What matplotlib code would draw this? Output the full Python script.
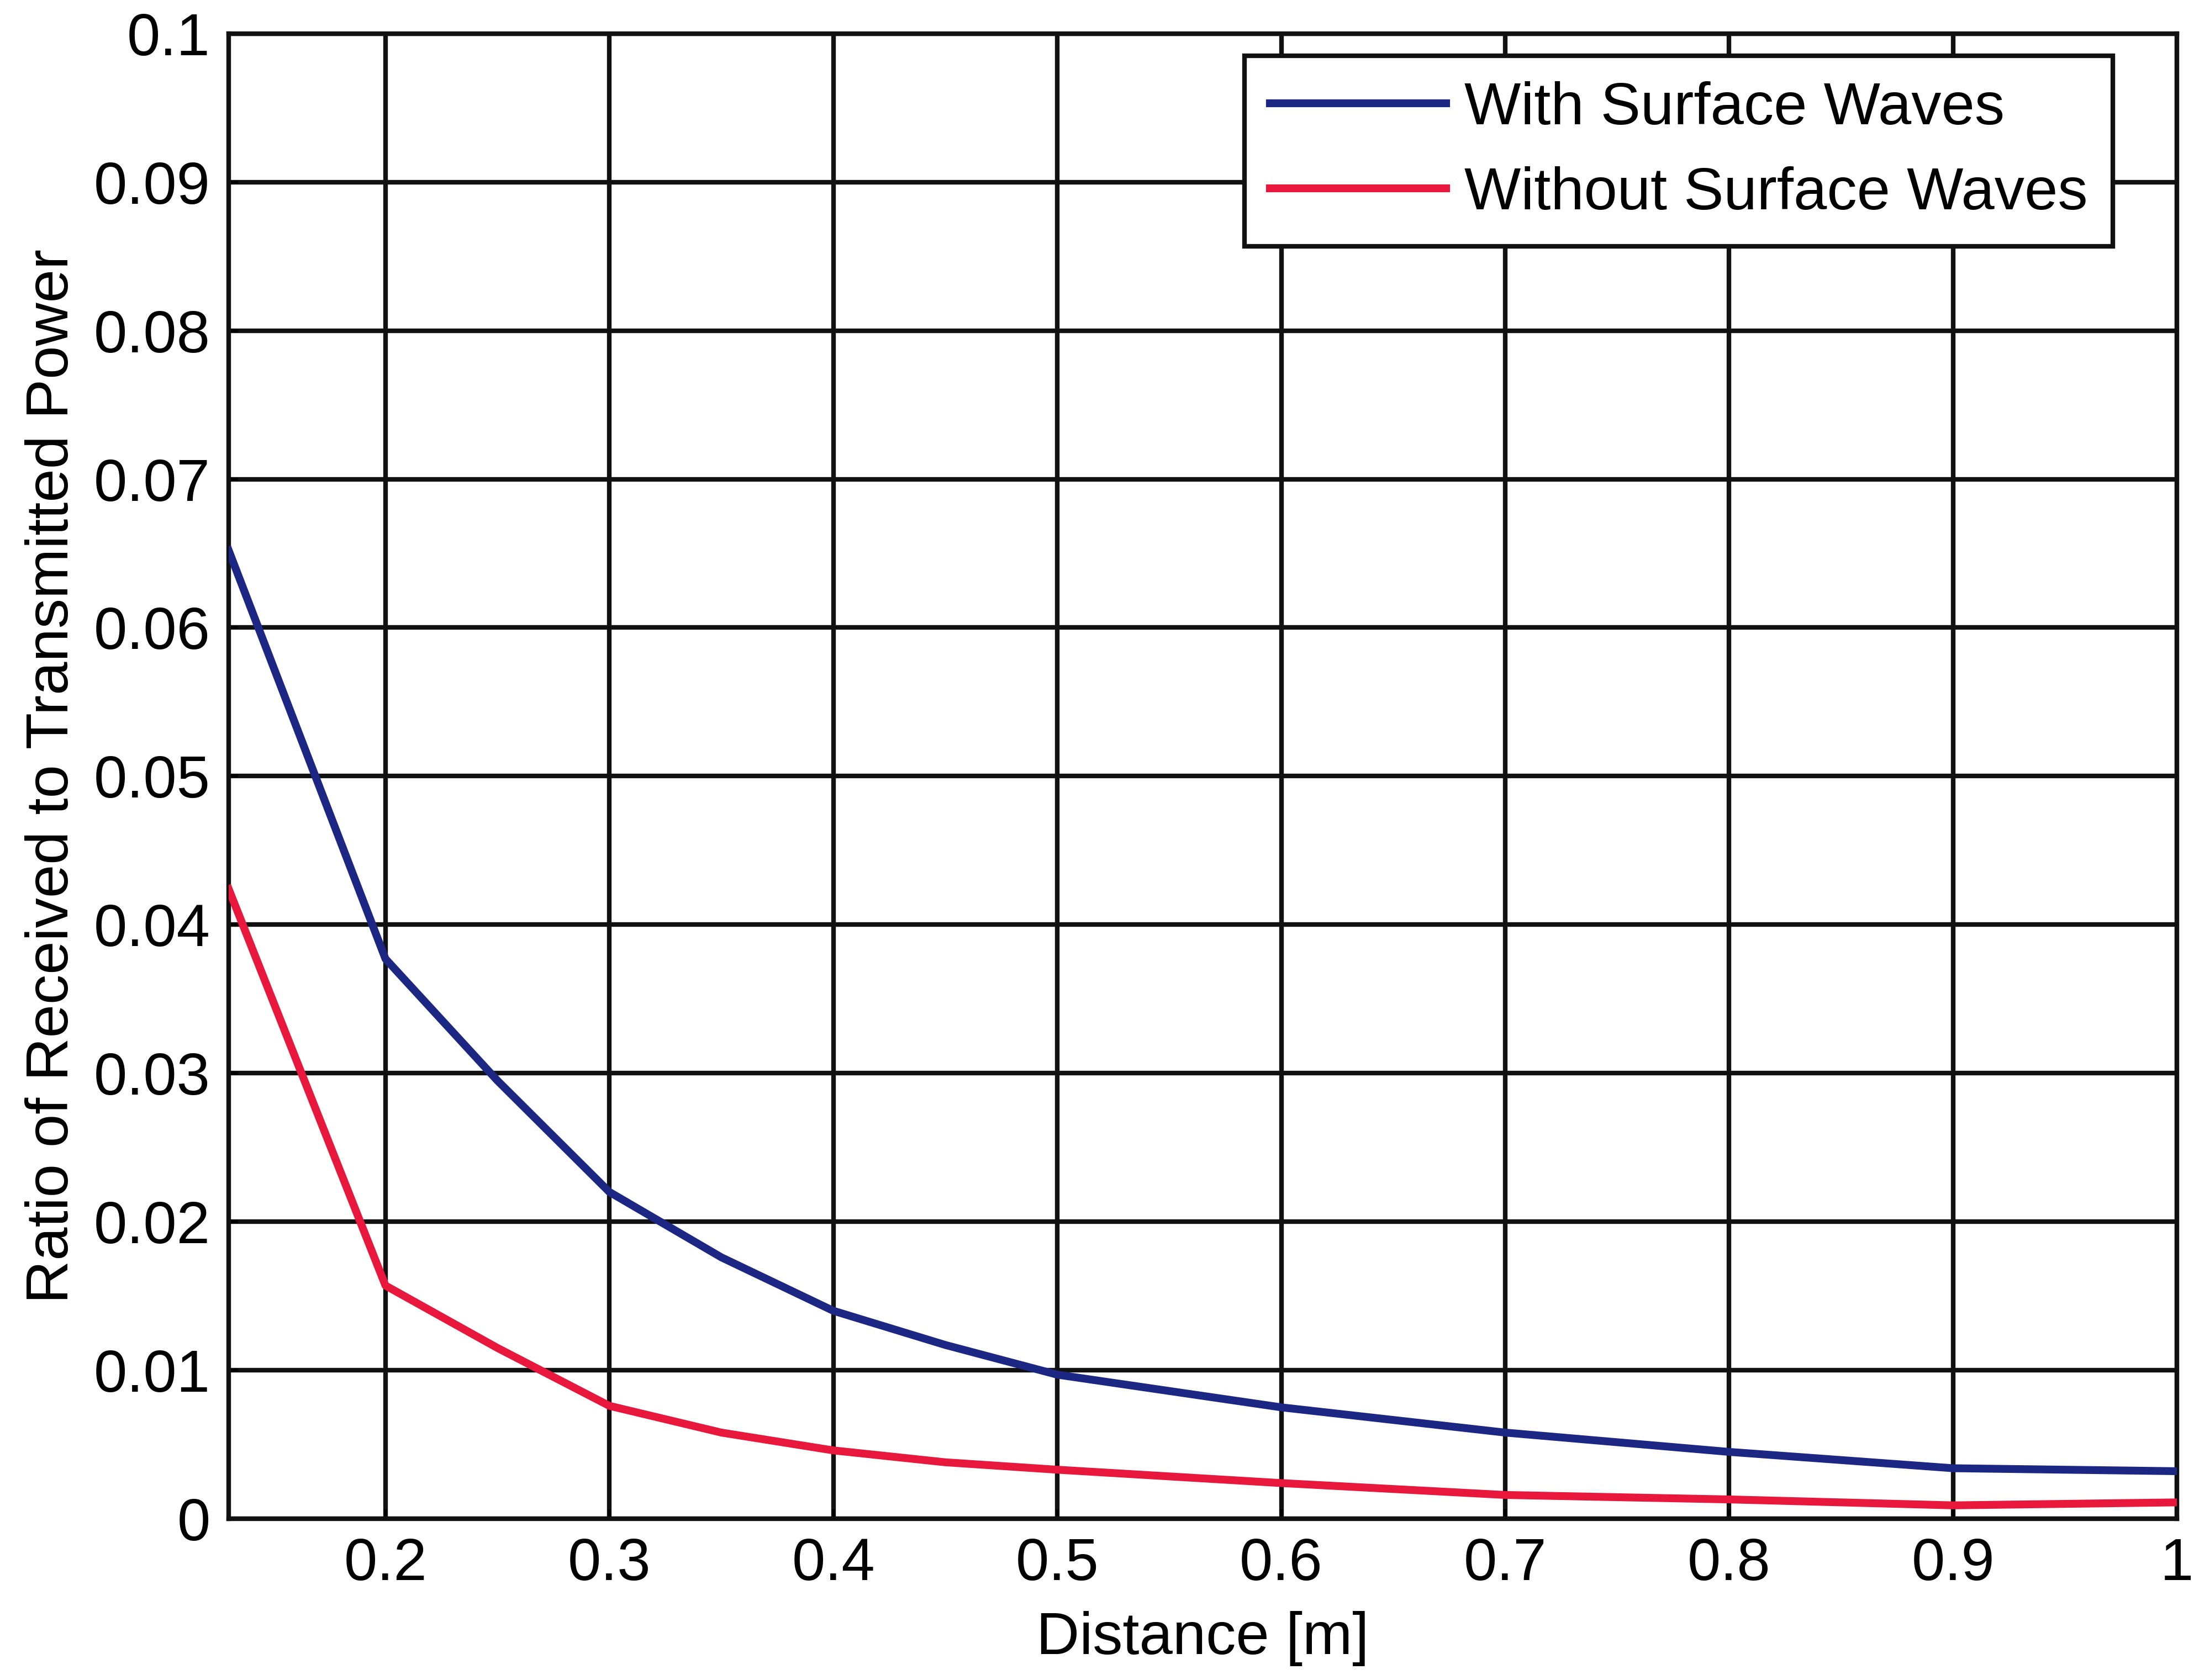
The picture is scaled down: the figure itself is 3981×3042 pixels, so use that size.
#!/usr/bin/env python3
"""Received/transmitted power ratio vs distance, with and without surface waves."""
import numpy as np
import matplotlib
matplotlib.use('Agg')
import matplotlib.pyplot as plt

# values
distance = [0.13, 0.2, 0.25, 0.3, 0.35, 0.4, 0.45, 0.5, 0.6, 0.7, 0.8, 0.9, 1.0]
with_sw = [0.0652, 0.0377, 0.0295, 0.0220, 0.0176, 0.0140, 0.0117, 0.0097, 0.0075, 0.0058, 0.0045, 0.0034, 0.0032]
without_sw = [0.0424, 0.0157, 0.0115, 0.0076, 0.0058, 0.0046, 0.0038, 0.0033, 0.0024, 0.0016, 0.0013, 0.0009, 0.0011]
x_ticks = [0.2, 0.3, 0.4, 0.5, 0.6, 0.7, 0.8, 0.9, 1.0]
x_labels = ['0.2', '0.3', '0.4', '0.5', '0.6', '0.7', '0.8', '0.9', '1']
y_ticks = [0, 0.01, 0.02, 0.03, 0.04, 0.05, 0.06, 0.07, 0.08, 0.09, 0.1]
y_labels = ['0', '0.01', '0.02', '0.03', '0.04', '0.05', '0.06', '0.07', '0.08', '0.09', '0.1']

COL = {'blue': '#1c2683', 'red': '#e8173c', 'grid': '#111111'}
FS = 26


def main():
    plt.rcParams.update({'font.family': ['Liberation Sans', 'DejaVu Sans'], 'font.size': FS})
    fig = plt.figure(figsize=(13.27, 10.14), dpi=300, facecolor='white')
    ax = fig.add_axes([0.104, 0.096, 0.886, 0.884])

    ax.plot(distance, with_sw, color=COL['blue'], lw=3.4, label='With Surface Waves', zorder=3)
    ax.plot(distance, without_sw, color=COL['red'], lw=3.4, label='Without Surface Waves', zorder=3)

    ax.set_xlim(0.13, 1.0)
    ax.set_ylim(0, 0.1)
    ax.set_xticks(x_ticks, x_labels)
    ax.set_yticks(y_ticks, y_labels)
    ax.tick_params(direction='in', length=4, width=1.4, labelsize=FS, pad=8)
    ax.grid(True, color=COL['grid'], lw=2.0)
    ax.set_axisbelow(True)
    for sp in ax.spines.values():
        sp.set_linewidth(2.0)
        sp.set_color(COL['grid'])

    ax.set_xlabel('Distance [m]', fontsize=FS, labelpad=8)
    ax.set_ylabel('Ratio of Received to Transmitted Power', fontsize=FS, labelpad=6)

    leg = ax.legend(loc='upper right', bbox_to_anchor=(0.967, 0.985), borderaxespad=0,
                    fontsize=FS, handlelength=2.95, handletextpad=0.3, labelspacing=0.5,
                    borderpad=0.42, fancybox=False, framealpha=1, edgecolor='#111111')
    leg.get_frame().set_linewidth(2.0)

    fig.savefig('out.png', dpi=300, facecolor='white')
    plt.close(fig)


if __name__ == '__main__':
    main()
